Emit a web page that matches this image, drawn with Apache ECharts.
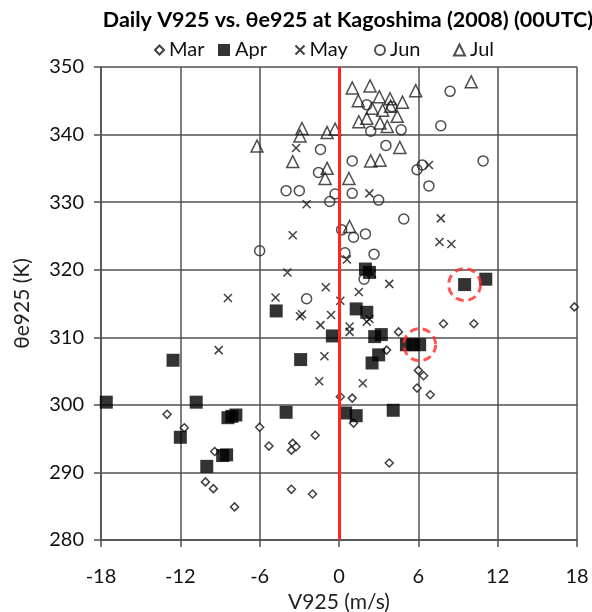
<!DOCTYPE html>
<html>
<head>
<meta charset="utf-8">
<script src="https://cdn.jsdelivr.net/npm/echarts@6/dist/echarts.min.js"></script>
<style>html,body{margin:0;padding:0;background:#fff;}#chart{width:592px;height:612px;}</style>
</head>
<body>
<div id="chart"></div>
<script>
// V925 (m/s), thetae925 (K)
const mar = [[17.8,314.5],[7.9,312.0],[10.2,312.0],[4.5,310.8],[3.6,308.1],[6.0,305.1],[6.4,304.3],[5.9,302.5],[6.9,301.5],[0.1,301.2],[1.0,301.0],[1.1,297.3],[-6.0,296.7],[-5.3,293.9],[-3.5,294.3],[-3.6,293.3],[-3.25,293.8],[-1.8,295.5],[3.8,291.4],[-3.6,287.5],[-2.0,286.8],[-13.0,298.6],[-11.7,296.6],[-9.4,293.1],[-10.1,288.6],[-9.5,287.6],[-7.9,284.9]];
const apr = [[-17.6,300.4],[-10.8,300.4],[-12.0,295.2],[-8.4,298.1],[-7.8,298.5],[-8.1,298.3],[-8.8,292.5],[-8.5,292.6],[-10.0,290.9],[-12.55,306.6],[-4.75,313.9],[-2.9,306.7],[-0.5,310.2],[2.0,320.1],[2.3,319.6],[1.3,314.2],[2.1,313.7],[2.7,310.1],[3.2,310.4],[3.0,307.4],[2.5,306.2],[5.1,308.9],[5.6,308.9],[6.1,308.9],[9.5,317.8],[11.1,318.6],[-4.0,298.9],[0.5,298.8],[1.3,298.4],[4.1,299.2]];
const may = [[-8.4,315.8],[-9.1,308.1],[-3.5,325.1],[0.6,321.5],[-3.9,319.6],[-1.0,317.4],[-4.8,315.9],[0.1,315.4],[1.5,316.7],[3.8,317.9],[-2.95,313.1],[-2.8,313.4],[-0.6,313.3],[-1.4,311.8],[0.8,311.6],[0.8,310.8],[2.1,312.3],[2.3,312.7],[-1.1,307.2],[-1.5,303.5],[1.8,303.2],[2.5,319.4],[7.6,324.1],[8.5,323.8],[7.7,327.6],[6.8,335.5],[-3.25,338.0],[-2.45,329.7],[2.3,331.3]];
const jun = [[8.4,346.4],[7.7,341.3],[10.9,336.1],[5.9,334.8],[6.3,335.5],[6.8,332.4],[2.1,344.4],[4.0,344.1],[2.4,340.5],[4.7,340.7],[3.55,338.4],[-1.4,337.8],[1.0,336.1],[-1.55,334.4],[-4.0,331.7],[-3.0,331.7],[-0.7,330.1],[-0.3,331.2],[1.0,331.3],[3.0,330.3],[4.9,327.5],[-6.0,322.8],[0.2,325.9],[1.1,324.8],[2.0,325.3],[0.45,322.5],[2.65,322.3],[1.9,318.6],[-2.45,315.7]];
const jul = [[10.0,347.8],[5.8,346.5],[1.0,346.9],[2.35,347.2],[1.46,345.0],[3.05,345.6],[3.86,345.3],[4.8,344.8],[2.5,343.9],[3.3,343.6],[3.9,344.2],[4.4,342.7],[1.5,341.9],[2.1,342.4],[3.1,341.7],[3.65,341.2],[4.6,338.1],[2.4,336.1],[3.1,336.2],[-2.8,340.9],[-2.95,339.8],[-0.9,340.3],[-0.3,340.8],[-6.2,338.3],[-3.5,336.0],[-0.9,335.0],[-1.05,333.5],[0.75,333.5],[0.8,326.4]];
const highlighted = [[9.5,317.8],[6.1,308.9]];
const months = ['Mar','Apr','May','Jun','Jul'];
const xTicks = [-18,-12,-6,0,6,12,18];
const yTicks = [280,290,300,310,320,330,340,350];

const FONT = 'Lato';
const crossPath = 'path://M0,0L10,10M10,0L0,10';
const chart = echarts.init(document.getElementById('chart'));
const gridColor = '#505050';
const legendLeft = [149, 213, 288, 369, 448];
const legendIcon = [9, 12, 9, 10, 11];
chart.setOption({
  animation: false,
  backgroundColor: '#fff',
  title: {
    text: 'Daily V925 vs. θe925 at Kagoshima (2008) (00UTC)',
    left: 343, top: 4, textAlign: 'center',
    textStyle: {fontFamily: FONT, fontWeight: 'bold', fontSize: 21.5, color: '#000'}
  },
  legend: months.map((m, i) => ({
    top: 35, left: legendLeft[i],
    itemWidth: legendIcon[i], itemHeight: legendIcon[i],
    textStyle: {fontFamily: FONT, fontSize: 20, color: '#111'},
    data: [m]
  })),
  grid: {left: 101, right: 15, top: 67, bottom: 72, outerBoundsMode: 'none', containLabel: false},
  xAxis: {
    type: 'value', min: -18, max: 18, interval: 6,
    name: 'V925 (m/s)', nameLocation: 'middle', nameGap: 50,
    nameTextStyle: {fontFamily: FONT, fontSize: 21, color: '#222'},
    axisLine: {show: true, onZero: false, lineStyle: {color: gridColor, width: 1.5}},
    axisTick: {show: true, length: 7, lineStyle: {color: gridColor, width: 1.5}},
    axisLabel: {fontFamily: FONT, fontSize: 20, color: '#111', margin: 27,
      formatter: v => xTicks.includes(v) ? String(v) : ''},
    splitLine: {show: true, lineStyle: {color: gridColor, width: 1.5}}
  },
  yAxis: {
    type: 'value', min: 280, max: 350, interval: 10,
    name: 'θe925 (K)', nameLocation: 'middle', nameGap: 68,
    nameTextStyle: {fontFamily: FONT, fontSize: 21, color: '#222'},
    axisLine: {show: true, onZero: false, lineStyle: {color: gridColor, width: 1.5}},
    axisTick: {show: true, length: 7, lineStyle: {color: gridColor, width: 1.5}},
    axisLabel: {fontFamily: FONT, fontSize: 20, color: '#111', margin: 17,
      formatter: v => yTicks.includes(v) ? String(v) : ''},
    splitLine: {show: true, lineStyle: {color: gridColor, width: 1.5}}
  },
  series: [
    {
      type: 'scatter', name: '_ref', data: [], z: 1, silent: true,
      markLine: {
        silent: true, symbol: 'none', animation: false,
        label: {show: false},
        lineStyle: {color: '#ff2525', width: 3, type: 'solid'},
        data: [{xAxis: 0}]
      }
    },
    {
      type: 'scatter', name: 'Mar', data: mar, symbol: 'diamond', symbolSize: 8, z: 3,
      itemStyle: {color: '#fff', borderColor: '#111', borderWidth: 1.5}
    },
    {
      type: 'scatter', name: 'Apr', data: apr, symbol: 'rect', symbolSize: 13, z: 4,
      itemStyle: {color: '#000', borderColor: '#000', borderWidth: 0, borderRadius: 2}
    },
    {
      type: 'scatter', name: 'May', data: may, symbol: crossPath, symbolSize: 8, z: 3,
      itemStyle: {color: 'none', borderColor: '#111', borderWidth: 1.5}
    },
    {
      type: 'scatter', name: 'Jun', data: jun, symbol: 'circle', symbolSize: 10, z: 3,
      itemStyle: {color: 'rgba(255,255,255,0)', borderColor: '#222', borderWidth: 1.5}
    },
    {
      type: 'scatter', name: 'Jul', data: jul, symbol: 'triangle', symbolSize: 12, z: 3,
      itemStyle: {color: 'rgba(255,255,255,0)', borderColor: '#222', borderWidth: 1.5}
    },
    {
      type: 'scatter', name: '_hl', data: highlighted, symbol: 'circle', symbolSize: 32, z: 5,
      silent: true,
      itemStyle: {color: 'rgba(0,0,0,0)', borderColor: '#ff2a2a', borderWidth: 3, borderType: [8,5]}
    }
  ]
});
</script>
</body>
</html>
